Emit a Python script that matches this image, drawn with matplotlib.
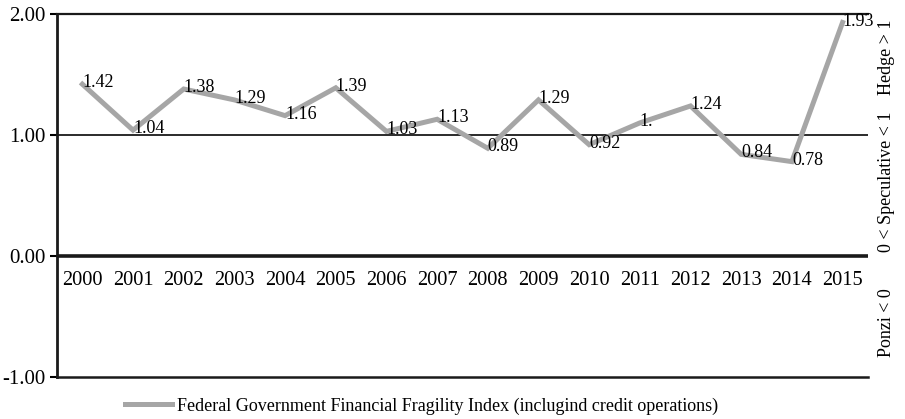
import matplotlib
matplotlib.use("Agg")
import matplotlib.pyplot as plt
from matplotlib.ticker import FuncFormatter
from matplotlib.transforms import blended_transform_factory

plt.rcParams['font.family'] = ['Liberation Serif', 'DejaVu Serif']
plt.rcParams['axes.unicode_minus'] = False

# Data
years = ['2000', '2001', '2002', '2003', '2004', '2005', '2006', '2007',
         '2008', '2009', '2010', '2011', '2012', '2013', '2014', '2015']
fragility = [1.42, 1.04, 1.38, 1.29, 1.16, 1.39, 1.03, 1.13,
             0.89, 1.29, 0.92, 1.10, 1.24, 0.84, 0.78, 1.93]
value_labels = ['1.42', '1.04', '1.38', '1.29', '1.16', '1.39', '1.03', '1.13',
                '0.89', '1.29', '0.92', '1.', '1.24', '0.84', '0.78', '1.93']
y_ticks = [-1.0, 0.0, 1.0, 2.0]
zones = [('Hedge > 1', 1.64), ('0 < Speculative < 1', 0.61), ('Ponzi < 0', -0.55)]
series_name = 'Federal Government Financial Fragility Index (inclugind credit operations)'

fig = plt.figure(figsize=(9.05, 4.19), dpi=100)
ax = fig.add_axes([0.063, 0.1002, 0.896, 0.8664])

x = list(range(len(years)))
line, = ax.plot(x, fragility, color='#A6A6A6', linewidth=3.6,
                solid_joinstyle='miter', label=series_name, zorder=3)

# data labels
for xi, yi, lab in zip(x, fragility, value_labels):
    ax.annotate(lab, (xi, yi), xytext=(0, 1), textcoords='offset points',
                ha='left', va='center', fontsize=13, zorder=4)

# year labels just under the zero line
for xi, yr in zip(x, years):
    ax.annotate(yr, (xi, 0), xytext=(0, -11), textcoords='offset points',
                ha='center', va='top', fontsize=14.7)

ax.set_xlim(-0.5, len(years) - 0.5)
ax.set_ylim(-1.0, 2.0)
ax.set_yticks(y_ticks)
ax.yaxis.set_major_formatter(FuncFormatter(lambda v, p: f"{v:.2f}"))
ax.tick_params(axis='y', labelsize=15, length=5, width=1.5, pad=3)
ax.set_xticks([])

# horizontal reference lines
ax.axhline(1.0, color='#1a1a1a', linewidth=1.3, zorder=2)
ax.axhline(0.0, color='#1a1a1a', linewidth=2.6, zorder=2)

ax.spines['right'].set_visible(False)
ax.spines['left'].set_linewidth(2.0)
ax.spines['top'].set_linewidth(1.6)
ax.spines['bottom'].set_linewidth(1.8)
for s in ax.spines.values():
    s.set_color('#1a1a1a')

# zone labels on the right
trans = blended_transform_factory(fig.transFigure, ax.transData)
for text, yv in zones:
    ax.text(0.98, yv, text, transform=trans, rotation=90,
            ha='center', va='center', fontsize=13)

fig.legend(handles=[line], loc='center', bbox_to_anchor=(0.466, 0.031),
           frameon=False, fontsize=13, handlelength=2.6, handletextpad=0.3)

fig.savefig('out.png', dpi=100)
